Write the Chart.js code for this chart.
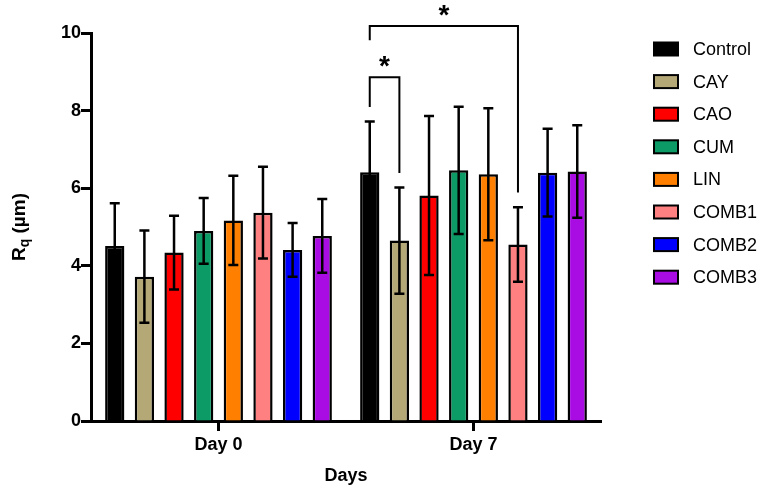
<!DOCTYPE html>
<html>
<head>
<meta charset="utf-8">
<script src="https://cdn.jsdelivr.net/npm/chart.js"></script>
<style>
  html, body { margin: 0; padding: 0; background: #fff; }
  #wrap { width: 765px; height: 491px; }
</style>
</head>
<body>
<div id="wrap"><canvas id="rqChart" width="765" height="491"></canvas></div>
<script>
// Rq surface roughness, mean and SD per group
const days = ['Day 0', 'Day 7'];
const groups = ['Control', 'CAY', 'CAO', 'CUM', 'LIN', 'COMB1', 'COMB2', 'COMB3'];
const colors = ['#000000', '#B5A877', '#FF0000', '#0C9A66', '#FF8000', '#FF8080', '#0000FF', '#A90CE3'];
const meanDay0 = [4.51, 3.72, 4.34, 4.90, 5.17, 5.37, 4.41, 4.77];
const meanDay7 = [6.41, 4.65, 5.81, 6.46, 6.36, 4.55, 6.40, 6.43];
const sdDay0 = [1.10, 1.19, 0.95, 0.85, 1.15, 1.18, 0.69, 0.95];
const sdDay7 = [1.31, 1.37, 2.05, 1.64, 1.70, 0.96, 1.13, 1.19];
const yTicks = [0, 2, 4, 6, 8, 10];
// significance brackets on Day 7: [from group, to group, top, left leg end, right leg end]
const brackets = [
    [0, 1, 8.86, 8.09, 6.39],
    [0, 5, 10.18, 9.81, 5.89]
];

const FONT = 'Arial, "Liberation Sans", sans-serif';

const datasets = groups.map((g, i) => ({
    label: g,
    data: [meanDay0[i], meanDay7[i]],
    sd: [sdDay0[i], sdDay7[i]],
    backgroundColor: colors[i],
    borderColor: '#000',
    borderWidth: 2.5,
    borderSkipped: 'bottom',
    barPercentage: 0.65,
    categoryPercentage: 0.93
}));

const errorBars = {
    id: 'errorBars',
    afterDatasetsDraw(chart) {
        const ctx = chart.ctx;
        const y = chart.scales.y;
        ctx.save();
        ctx.strokeStyle = '#000';
        ctx.lineWidth = 2.5;
        chart.data.datasets.forEach((ds, i) => {
            chart.getDatasetMeta(i).data.forEach((bar, j) => {
                const m = ds.data[j], s = ds.sd[j];
                const yt = y.getPixelForValue(m + s), yb = y.getPixelForValue(m - s);
                ctx.beginPath();
                ctx.moveTo(bar.x, yt); ctx.lineTo(bar.x, yb);
                ctx.moveTo(bar.x - 5, yt); ctx.lineTo(bar.x + 5, yt);
                ctx.moveTo(bar.x - 5, yb); ctx.lineTo(bar.x + 5, yb);
                ctx.stroke();
            });
        });
        // brackets
        ctx.lineWidth = 2;
        brackets.forEach(b => {
            const x1 = chart.getDatasetMeta(b[0]).data[1].x;
            const x2 = chart.getDatasetMeta(b[1]).data[1].x;
            const yTop = y.getPixelForValue(b[2]);
            ctx.beginPath();
            ctx.moveTo(x1, y.getPixelForValue(b[3]));
            ctx.lineTo(x1, yTop);
            ctx.lineTo(x2, yTop);
            ctx.lineTo(x2, y.getPixelForValue(b[4]));
            ctx.stroke();
            ctx.fillStyle = '#000';
            ctx.font = 'bold 28px ' + FONT;
            ctx.textAlign = 'center';
            ctx.textBaseline = 'middle';
            ctx.fillText('*', (x1 + x2) / 2, yTop - 10);
        });
        // y title with subscript
        ctx.translate(20, (chart.chartArea.top + chart.chartArea.bottom) / 2);
        ctx.rotate(-Math.PI / 2);
        ctx.textBaseline = 'middle';
        ctx.textAlign = 'left';
        ctx.font = 'bold 19px ' + FONT;
        const wR = ctx.measureText('R').width;
        ctx.font = 'bold 14px ' + FONT;
        const wq = ctx.measureText('q').width;
        ctx.font = 'bold 19px ' + FONT;
        const wRest = ctx.measureText(' (µm)').width;
        let x0 = -(wR + wq + wRest) / 2;
        ctx.fillText('R', x0, 0);
        ctx.font = 'bold 14px ' + FONT;
        ctx.fillText('q', x0 + wR, 5);
        ctx.font = 'bold 19px ' + FONT;
        ctx.fillText(' (µm)', x0 + wR + wq, 0);
        ctx.restore();
        // legend
        ctx.save();
        ctx.font = '18px ' + FONT;
        ctx.textBaseline = 'middle';
        ctx.textAlign = 'left';
        chart.data.datasets.forEach((ds, i) => {
            const cy = 49 + i * 32.6;
            ctx.fillStyle = ds.backgroundColor;
            ctx.fillRect(654, cy - 6.5, 24, 13);
            ctx.strokeStyle = '#000';
            ctx.lineWidth = 2;
            ctx.strokeRect(654, cy - 6.5, 24, 13);
            ctx.fillStyle = '#000';
            ctx.fillText(ds.label, 693, cy + 1);
        });
        ctx.restore();
    }
};

new Chart(document.getElementById('rqChart').getContext('2d'), {
    type: 'bar',
    data: { labels: days, datasets: datasets },
    options: {
        responsive: false,
        animation: false,
        layout: { padding: { top: 33, right: 164, bottom: 0, left: 0 } },
        plugins: { legend: { display: false }, tooltip: { enabled: false } },
        scales: {
            x: {
                grid: { display: true, drawOnChartArea: false, offset: false, tickLength: 10, tickWidth: 3, tickColor: '#000' },
                border: { display: true, width: 3, color: '#000' },
                ticks: { color: '#000', padding: 3, font: { family: FONT, size: 18, weight: 'bold' } },
                title: { display: true, text: 'Days', color: '#000', padding: { top: 4, bottom: 4 }, font: { family: FONT, size: 18, weight: 'bold' } },
                afterFit(scale) { scale.height = 70; }
            },
            y: {
                min: 0, max: 10,
                afterBuildTicks(scale) { scale.ticks = yTicks.map(v => ({ value: v })); },
                grid: { display: true, drawOnChartArea: false, tickLength: 10, tickWidth: 3, tickColor: '#000' },
                border: { display: true, width: 3, color: '#000' },
                ticks: { color: '#000', padding: 0, font: { family: FONT, size: 18, weight: 'bold' } },
                afterFit(scale) { scale.width = 91; }
            }
        }
    },
    plugins: [errorBars]
});
</script>
</body>
</html>
